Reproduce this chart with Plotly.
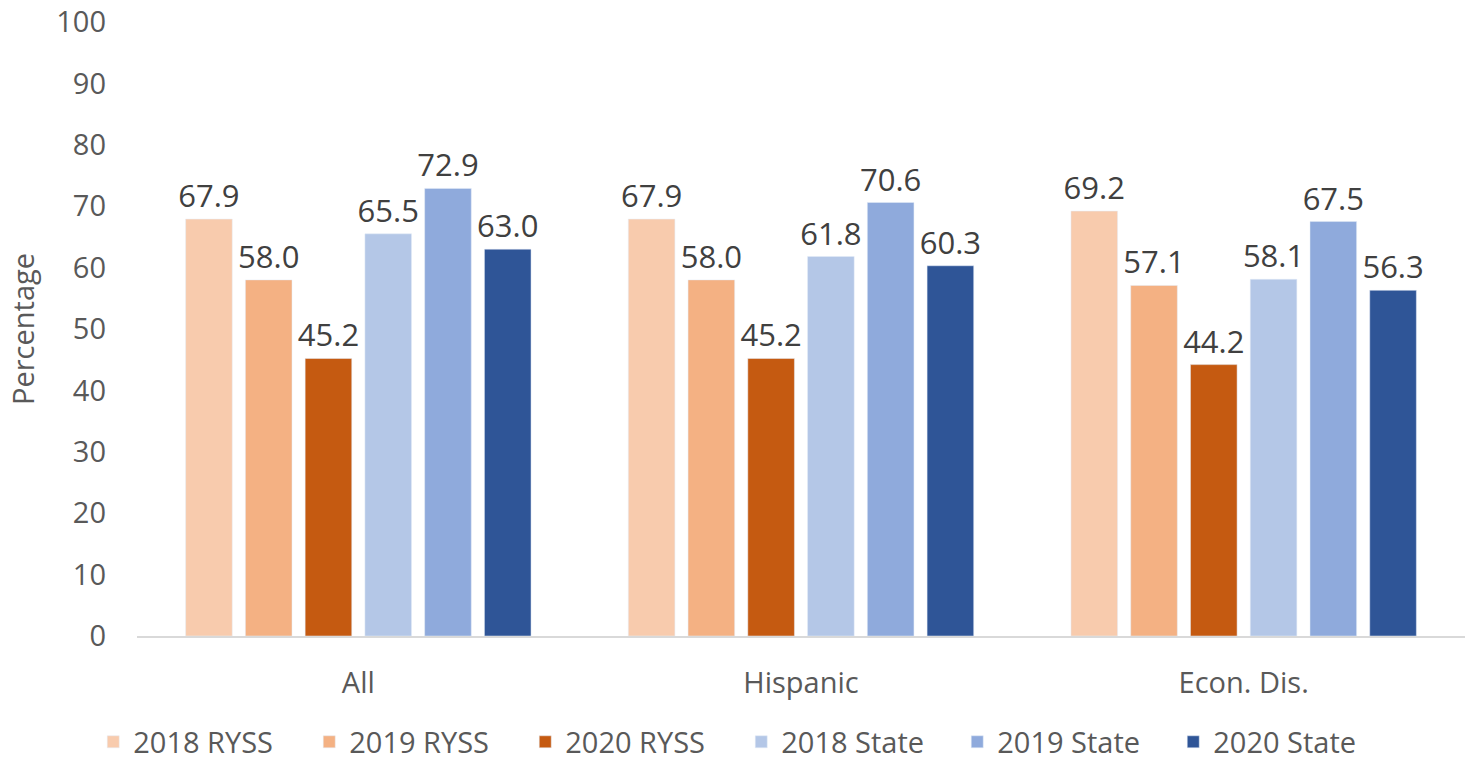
import plotly.graph_objects as go

categories = ["All", "Hispanic", "Econ. Dis."]
series_names = ["2018 RYSS", "2019 RYSS", "2020 RYSS", "2018 State", "2019 State", "2020 State"]
ryss_2018 = [67.9, 67.9, 69.2]
ryss_2019 = [58.0, 58.0, 57.1]
ryss_2020 = [45.2, 45.2, 44.2]
state_2018 = [65.5, 61.8, 58.1]
state_2019 = [72.9, 70.6, 67.5]
state_2020 = [63.0, 60.3, 56.3]
y_ticks = [0, 10, 20, 30, 40, 50, 60, 70, 80, 90, 100]

colors = ["#F8CBAD", "#F4B183", "#C55A11", "#B4C7E7", "#8FAADC", "#2F5597"]
values = [ryss_2018, ryss_2019, ryss_2020, state_2018, state_2019, state_2020]

FONT = "Open Sans"
TXT = "#595959"
FS = 29

fig = go.Figure()
for name, vals, col in zip(series_names, values, colors):
    fig.add_trace(go.Bar(
        name=name, x=categories, y=vals, marker_color=col,
        text=[f"{v:.1f}" for v in vals], textposition="outside",
        textfont=dict(family=FONT, size=31, color="#404040"),
        constraintext="none", cliponaxis=False,
    ))

fig.update_layout(
    width=1469, height=760,
    margin=dict(l=137, r=4, t=22, b=124, autoexpand=False),
    paper_bgcolor="white", plot_bgcolor="white",
    barmode="group", bargap=0.19, bargroupgap=0.22,
    font=dict(family=FONT, color=TXT, size=FS),
    legend=dict(orientation="h", x=0.455, xanchor="center", y=-0.131, yanchor="top",
                font=dict(size=FS, color=TXT), traceorder="normal",
                entrywidth=171, entrywidthmode="pixels"),
    showlegend=True,
    annotations=[dict(text="Percentage", xref="paper", yref="paper", x=0, y=0.5,
                      xanchor="center", yanchor="middle", xshift=-115, textangle=-90,
                      showarrow=False, font=dict(size=FS, color=TXT))],
)
fig.update_yaxes(range=[0, 100], tickvals=y_ticks, showgrid=False, zeroline=False,
                 showline=False, ticks="", ticklabelstandoff=30, automargin=False,
                 tickfont=dict(size=FS, color=TXT))
fig.update_xaxes(showline=True, linecolor="#D9D9D9", linewidth=2, ticks="", automargin=False,
                 tickfont=dict(size=FS, color=TXT), ticklabelstandoff=20)

fig.write_html("out.html", config={"displayModeBar": False},
               post_script="document.body.style.margin='0';document.body.style.overflow='hidden';")
